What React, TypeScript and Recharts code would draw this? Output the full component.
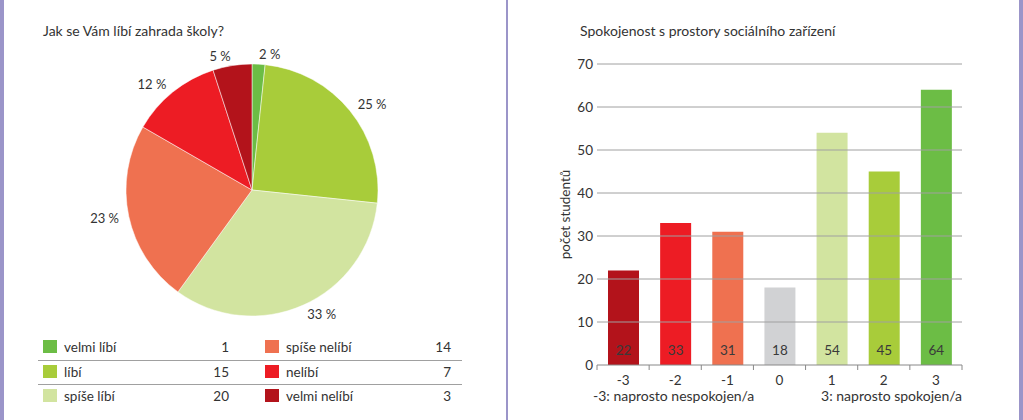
import React from "react";
import {
  PieChart,
  Pie,
  Cell,
  BarChart,
  Bar,
  XAxis,
  YAxis,
  ReferenceLine,
  LabelList,
} from "recharts";

// pie: Jak se Vám líbí zahrada školy?
const pieLabels = ["velmi líbí", "líbí", "spíše líbí", "spíše nelíbí", "nelíbí", "velmi nelíbí"];
const pieValues = [1, 15, 20, 14, 7, 3];
const pieColors = ["#6cbd45", "#a8cc3a", "#d2e4a0", "#ef7150", "#ed1c24", "#b3131b"];

// bars: Spokojenost s prostory sociálního zařízení
const barCategories = ["-3", "-2", "-1", "0", "1", "2", "3"];
const barValues = [22, 33, 31, 18, 54, 45, 64];
const barColors = ["#b3131b", "#ed1c24", "#ef7150", "#d1d2d4", "#d2e4a0", "#a8cc3a", "#6cbd45"];
const yTicks = [0, 10, 20, 30, 40, 50, 60, 70];

const FONT = "Lato, 'Open Sans', sans-serif";
const TEXT = "#333";
const BORDER = "#9b95c9";

const pieData = pieLabels.map((name, i) => ({ name, value: pieValues[i] }));
const barData = barCategories.map((name, i) => ({ name, value: barValues[i] }));

const RAD = Math.PI / 180;
const renderPieLabel = (p: any) => {
  const r = p.outerRadius + 10;
  const x = p.cx + r * Math.cos(-p.midAngle * RAD);
  const y = p.cy + r * Math.sin(-p.midAngle * RAD);
  return (
    <text
      x={x}
      y={y}
      fill={TEXT}
      fontSize={13}
      fontFamily={FONT}
      textAnchor={x > p.cx ? "start" : "end"}
      dominantBaseline="central"
    >
      {Math.round(p.percent * 100)} %
    </text>
  );
};

const XTick = (props: any) => {
  const { x, y, payload, index, width } = props;
  const step = width / barCategories.length;
  const last = index === barCategories.length - 1;
  return (
    <g>
      <line x1={x - step / 2} x2={x - step / 2} y1={y} y2={y + 5} stroke="#888" />
      {last && <line x1={x + step / 2} x2={x + step / 2} y1={y} y2={y + 5} stroke="#888" />}
      <text x={x} y={y + 15} textAnchor="middle" dominantBaseline="central" fill={TEXT} fontSize={13.5} fontFamily={FONT}>
        {payload.value}
      </text>
    </g>
  );
};

const XNote = (props: any) => {
  const { x, y, width } = props.viewBox;
  return (
    <g fill={TEXT} fontSize={14} fontFamily={FONT}>
      <text x={x - 4} y={y + 30} dominantBaseline="central">-3: naprosto nespokojen/a</text>
      <text x={x + width} y={y + 30} textAnchor="end" dominantBaseline="central">3: naprosto spokojen/a</text>
    </g>
  );
};

const YTitle = (props: any) => {
  const { x, y, height } = props.viewBox;
  const cx = x + 55;
  const cy = y + height / 2;
  return (
    <text
      x={cx}
      y={cy}
      transform={`rotate(-90 ${cx} ${cy})`}
      textAnchor="middle"
      dominantBaseline="central"
      fill={TEXT}
      fontSize={13.5}
      fontFamily={FONT}
    >
      počet studentů
    </text>
  );
};

export default function App() {
  return (
    <div
      style={{
        position: "absolute",
        left: 0,
        top: 0,
        width: 1023,
        height: 420,
        background: "#fff",
        fontFamily: FONT,
        color: TEXT,
        overflow: "hidden",
      }}
    >
      {/* frame */}
      <div style={{ position: "absolute", left: 0, top: 0, width: 4, height: 420, background: BORDER }} />
      <div style={{ position: "absolute", left: 506, top: 0, width: 2, height: 420, background: BORDER }} />
      <div style={{ position: "absolute", left: 1019, top: 0, width: 4, height: 420, background: BORDER }} />

      {/* left panel */}
      <div style={{ position: "absolute", left: 43, top: 22, fontSize: 14, lineHeight: "18px" }}>
        Jak se Vám líbí zahrada školy?
      </div>
      <div style={{ position: "absolute", left: 0, top: 0 }}>
        <PieChart width={500} height={330} margin={{ top: 0, right: 0, bottom: 0, left: 0 }}>
          <Pie
            data={pieData}
            dataKey="value"
            cx={252}
            cy={190}
            outerRadius={126}
            startAngle={90}
            endAngle={-270}
            stroke="#fff"
            strokeWidth={0.5}
            label={renderPieLabel}
            labelLine={false}
            isAnimationActive={false}
          >
            {pieData.map((d, i) => (
              <Cell key={d.name} fill={pieColors[i]} />
            ))}
          </Pie>
        </PieChart>
      </div>

      {/* legend table */}
      <div style={{ position: "absolute", left: 38, top: 360, width: 424, height: 1, background: "#a0a0a0" }} />
      <div style={{ position: "absolute", left: 38, top: 384, width: 424, height: 1, background: "#a0a0a0" }} />
      {pieLabels.map((name, i) => {
        const col = Math.floor(i / 3);
        const row = i % 3;
        const left = col === 0 ? 43 : 265;
        const top = 338 + row * 24.5;
        return (
          <div key={name} style={{ position: "absolute", left, top, width: 186, height: 18, fontSize: 13.5, lineHeight: "18px" }}>
            <div style={{ position: "absolute", left: 0, top: 2, width: 14, height: 13, background: pieColors[i] }} />
            <div style={{ position: "absolute", left: 21 }}>{name}</div>
            <div style={{ position: "absolute", right: 0, textAlign: "right" }}>{pieValues[i]}</div>
          </div>
        );
      })}

      {/* right panel */}
      <div style={{ position: "absolute", left: 580, top: 22, fontSize: 14, lineHeight: "18px" }}>
        Spokojenost s prostory sociálního zařízení
      </div>
      <div style={{ position: "absolute", left: 510, top: 0 }}>
        <BarChart width={480} height={420} data={barData} margin={{ top: 64, right: 28, bottom: 15, left: 0 }}>
          <XAxis
            dataKey="name"
            height={40}
            stroke="#888"
            tickLine={false}
            tickSize={0}
            tickMargin={0}
            tick={<XTick />}
            interval={0}
            label={{ content: <XNote /> }}
          />
          <YAxis
            width={87}
            domain={[0, 70]}
            ticks={yTicks}
            axisLine={false}
            tickLine={false}
            tickSize={0}
            tickMargin={4}
            tick={{ fill: TEXT, fontSize: 13.5, fontFamily: FONT }}
            label={{ content: <YTitle /> }}
          />
          <Bar dataKey="value" barSize={31} isAnimationActive={false}>
            {barData.map((d, i) => (
              <Cell key={d.name} fill={barColors[i]} />
            ))}
            <LabelList dataKey="value" position="insideBottom" offset={10} fill="#3a3a3a" fontSize={13.5} fontFamily={FONT} />
          </Bar>
          {yTicks.slice(1).map((t) => (
            <ReferenceLine key={t} y={t} stroke="#a0a0a0" strokeWidth={1} />
          ))}
        </BarChart>
      </div>
    </div>
  );
}
